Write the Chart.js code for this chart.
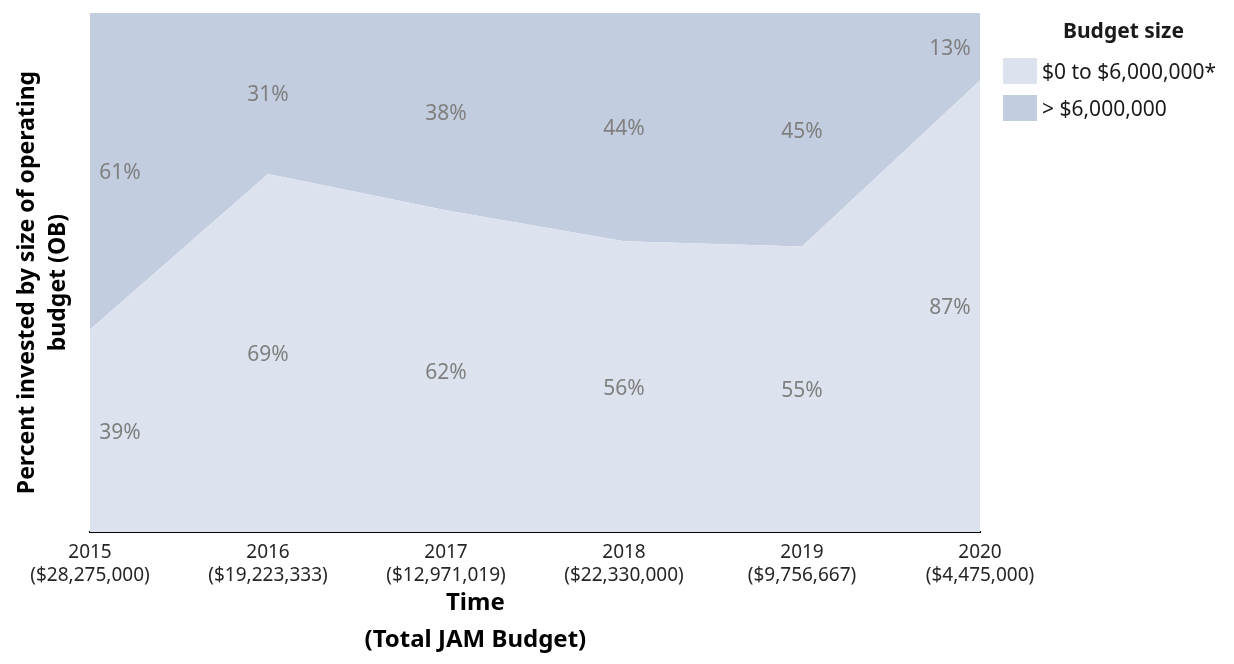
<!DOCTYPE html>
<html lang="en">
<head>
<meta charset="UTF-8">
<title>Budget size share</title>
<script src="https://cdn.jsdelivr.net/npm/chart.js"></script>
<style>
  body { margin: 0; background: #fff; font-family: "Noto Sans", sans-serif; }
  #wrap { position: relative; width: 1234px; height: 664px; }
  #legenda { position: absolute; left: 1003px; top: 16px; width: 231px; color: #1a1a1a; }
  #legenda h4 { margin: 0 0 8px 0; font-size: 21px; font-weight: bold; text-align: center; padding-left: 10px; }
  .item { display: flex; align-items: center; height: 37px; font-size: 21px; }
  .box { width: 34px; height: 26px; margin-right: 5px; }
</style>
</head>
<body>
<div id="wrap">
  <canvas id="grafico" width="1234" height="664"></canvas>
  <div id="legenda"></div>
</div>

<script>
// dados
const anos = ['2015', '2016', '2017', '2018', '2019', '2020'];
const orcamentoTotal = ['($28,275,000)', '($19,223,333)', '($12,971,019)', '($22,330,000)', '($9,756,667)', '($4,475,000)'];
const ateSeisMilhoes = [39, 69, 62, 56, 55, 87];
const acimaSeisMilhoes = [61, 31, 38, 44, 45, 13];
const nomesSeries = ['$0 to $6,000,000*', '> $6,000,000'];
const cores = ['#dde3ee', '#c3cde0'];
const tituloX = ['Time', '(Total JAM Budget)'];
const tituloY = ['Percent invested by size of operating', 'budget (OB)'];

const fonte = '"Noto Sans", sans-serif';

// rótulos de % no meio de cada faixa + títulos dos eixos
const rotulosPlugin = {
  id: 'rotulos',
  afterDatasetsDraw(chart) {
    const ctx = chart.ctx;
    const x = chart.scales.x, y = chart.scales.y;
    const area = chart.chartArea;
    ctx.save();
    ctx.font = '21px ' + fonte;
    ctx.fillStyle = '#7f7f7f';
    ctx.textAlign = 'center';
    ctx.textBaseline = 'middle';
    anos.forEach((a, i) => {
      let px = x.getPixelForValue(i);
      if (i === 0) px += 30;
      if (i === anos.length - 1) px -= 30;
      const b = ateSeisMilhoes[i], t = acimaSeisMilhoes[i];
      ctx.fillText(b + '%', px, y.getPixelForValue(b / 2) + 2);
      ctx.fillText(t + '%', px, y.getPixelForValue(b + t / 2) + 2);
    });

    // títulos
    ctx.fillStyle = '#000';
    ctx.font = 'bold 24px ' + fonte;
    const cx = area.left + (area.right - area.left) * 0.433;
    ctx.fillText(tituloX[0], cx, 603);
    ctx.fillText(tituloX[1], cx, 640);

    ctx.font = 'bold 23px ' + fonte;
    const cy = (area.top + area.bottom) / 2 + 10;
    ctx.translate(0, cy);
    ctx.rotate(-Math.PI / 2);
    ctx.fillText(tituloY[0], 0, 27);
    ctx.fillText(tituloY[1], 0, 58);
    ctx.restore();
  }
};

const ctx = document.getElementById('grafico').getContext('2d');
new Chart(ctx, {
  type: 'line',
  data: {
    labels: anos.map((a, i) => [a, orcamentoTotal[i]]),
    datasets: [
      { label: nomesSeries[0], data: ateSeisMilhoes, backgroundColor: cores[0], borderWidth: 0, pointRadius: 0, fill: 'origin', tension: 0 },
      { label: nomesSeries[1], data: acimaSeisMilhoes, backgroundColor: cores[1], borderWidth: 0, pointRadius: 0, fill: '-1', tension: 0 }
    ]
  },
  options: {
    responsive: false,
    animation: false,
    layout: { padding: { top: 13, right: 254, left: 0, bottom: 0 } },
    plugins: { legend: { display: false }, tooltip: { enabled: false } },
    scales: {
      x: {
        offset: false,
        grid: { display: false, drawTicks: false },
        border: { display: true, color: '#000', width: 2 },
        ticks: { color: '#262626', padding: 9, maxRotation: 0, autoSkip: false, font: { family: fonte, size: 19, lineHeight: 1.21 } },
        afterFit: s => { s.height = 132; }
      },
      y: {
        stacked: true,
        min: 0,
        max: 100,
        grid: { display: false, drawTicks: false },
        border: { display: false },
        ticks: { display: false },
        afterFit: s => { s.width = 90; }
      }
    }
  },
  plugins: [rotulosPlugin]
});

// legenda montada a partir das séries
const leg = document.getElementById('legenda');
leg.innerHTML = '<h4>Budget size</h4>' + nomesSeries.map((n, i) =>
  `<div class="item"><div class="box" style="background:${cores[i]}"></div>${n}</div>`).join('');
</script>
</body>
</html>
